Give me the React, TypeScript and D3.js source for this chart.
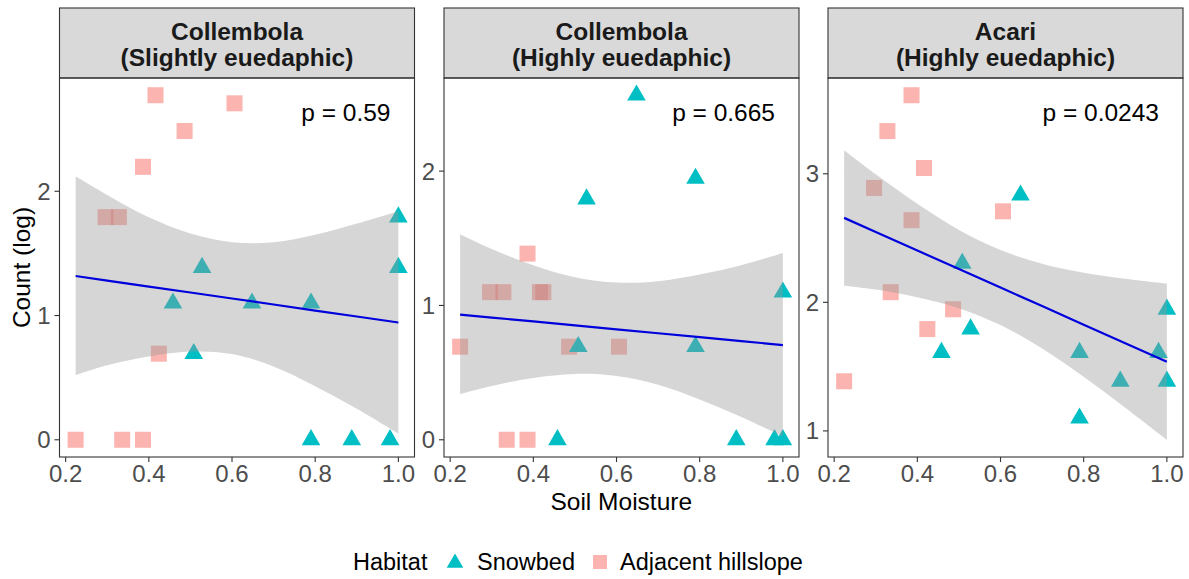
import { useRef, useEffect } from "react";
import * as d3 from "d3";

// facet strips and annotations
const facetTitles = [
  ["Collembola", "(Slightly euedaphic)"],
  ["Collembola", "(Highly euedaphic)"],
  ["Acari", "(Highly euedaphic)"],
];
const pLabels = ["p = 0.59", "p = 0.665", "p = 0.0243"];
const xTicks = [0.2, 0.4, 0.6, 0.8, 1.0];
const yTicks = [
  [0, 1, 2],
  [0, 1, 2],
  [1, 2, 3],
];
const habitats = ["Snowbed", "Adjacent hillslope"];

// soil moisture of the sites
const snowbedMoisture = [0.458, 0.508, 0.528, 0.648, 0.79, 0.79, 0.888, 0.98, 1.0, 1.0];
const hillslopeMoisture = [0.224, 0.296, 0.328, 0.336, 0.386, 0.386, 0.416, 0.424, 0.486, 0.606];

// log counts per facet
const slightSnowbed = [1.099, 0.693, 1.386, 1.099, 1.099, 0, 0, 0, 1.792, 1.386];
const slightHillslope = [0, 1.792, 1.792, 0, 2.197, 0, 2.773, 0.693, 2.485, 2.708];
const highSnowbed = [0, 0.693, 1.792, 2.565, 1.946, 0.693, 0, 0, 1.099, 0];
const highHillslope = [0.693, 1.099, 1.099, 0, 1.386, 0, 1.099, 1.099, 0.693, 0.693];
const acariSnowbed = [1.609, 2.303, 1.792, 2.833, 1.609, 1.099, 1.386, 1.609, 1.946, 1.386];
const acariHillslope = [1.386, 2.89, 3.332, 2.079, 3.611, 2.639, 3.045, 1.792, 1.946, 2.708];

// linear fit and confidence band
const fitX = [0.224, 0.3, 0.4, 0.5, 0.6, 0.7, 0.8, 0.9, 1.0];
const slightFit = [1.318, 1.281, 1.233, 1.185, 1.137, 1.089, 1.04, 0.992, 0.944];
const slightLower = [0.52, 0.6, 0.67, 0.71, 0.69, 0.59, 0.43, 0.25, 0.05];
const slightUpper = [2.12, 1.97, 1.79, 1.66, 1.59, 1.59, 1.65, 1.74, 1.84];
const highFit = [0.932, 0.91, 0.881, 0.851, 0.822, 0.793, 0.764, 0.735, 0.705];
const highLower = [0.34, 0.4, 0.46, 0.49, 0.475, 0.41, 0.3, 0.17, 0.025];
const highUpper = [1.53, 1.42, 1.3, 1.21, 1.17, 1.18, 1.23, 1.3, 1.39];
const acariFit = [2.657, 2.547, 2.403, 2.259, 2.115, 1.971, 1.826, 1.682, 1.538];
const acariLower = [2.13, 2.1, 2.04, 1.955, 1.823, 1.641, 1.421, 1.181, 0.931];
const acariUpper = [3.183, 2.996, 2.766, 2.563, 2.407, 2.301, 2.231, 2.183, 2.145];

const panels = [
  { snow: slightSnowbed, hill: slightHillslope, fit: slightFit, lower: slightLower, upper: slightUpper },
  { snow: highSnowbed, hill: highHillslope, fit: highFit, lower: highLower, upper: highUpper },
  { snow: acariSnowbed, hill: acariHillslope, fit: acariFit, lower: acariLower, upper: acariUpper },
];

const SNOW_COL = "#00BFC4";
const HILL_COL = "#F8766D";
const FONT = "'Liberation Sans', Arial, sans-serif";

export default function App() {
  const ref = useRef(null);

  useEffect(() => {
    const svg = d3.select(ref.current);
    svg.selectAll("*").remove();

    const width = 1189;
    const height = 579;
    const panelLeft = [59.5, 444, 828];
    const panelW = 355;
    const stripTop = 8;
    const plotTop = 78;
    const plotBottom = 457;

    svg.attr("width", width).attr("height", height);
    svg.append("rect").attr("width", width).attr("height", height).attr("fill", "white");

    const allX = [...snowbedMoisture, ...hillslopeMoisture];
    const xExt = d3.extent(allX);
    const xPad = (xExt[1] - xExt[0]) * 0.05;
    const xDomain = [xExt[0] - xPad, xExt[1] + xPad];

    const tri = d3.symbol().type(d3.symbolTriangle).size(150);

    panels.forEach((p, i) => {
      const left = panelLeft[i];
      const right = left + panelW;
      const x = d3.scaleLinear().domain(xDomain).range([left, right]);
      const yExt = d3.extent([...p.snow, ...p.hill, ...p.lower, ...p.upper]);
      const yPad = (yExt[1] - yExt[0]) * 0.05;
      const y = d3
        .scaleLinear()
        .domain([yExt[0] - yPad, yExt[1] + yPad])
        .range([plotBottom, plotTop]);

      const g = svg.append("g");

      // strip
      g.append("rect")
        .attr("x", left)
        .attr("y", stripTop)
        .attr("width", panelW)
        .attr("height", plotTop - stripTop)
        .attr("fill", "#D9D9D9")
        .attr("stroke", "#333333")
        .attr("stroke-width", 1.1);
      facetTitles[i].forEach((t, j) => {
        g.append("text")
          .attr("x", left + panelW / 2)
          .attr("y", 40 + j * 26)
          .attr("text-anchor", "middle")
          .attr("font-family", FONT)
          .attr("font-weight", "bold")
          .attr("font-size", 24.5)
          .attr("fill", "#1A1A1A")
          .text(t);
      });

      const clipId = `clip${i}`;
      svg.append("clipPath")
        .attr("id", clipId)
        .append("rect")
        .attr("x", left)
        .attr("y", plotTop)
        .attr("width", panelW)
        .attr("height", plotBottom - plotTop);

      const plot = g.append("g").attr("clip-path", `url(#${clipId})`);

      // points
      plot.selectAll(".hill")
        .data(p.hill)
        .join("rect")
        .attr("x", (d, k) => x(hillslopeMoisture[k]) - 8)
        .attr("y", (d) => y(d) - 8)
        .attr("width", 16)
        .attr("height", 16)
        .attr("fill", HILL_COL)
        .attr("fill-opacity", 0.55);

      plot.selectAll(".snow")
        .data(p.snow)
        .join("path")
        .attr("d", tri)
        .attr("transform", (d, k) => `translate(${x(snowbedMoisture[k])},${y(d)})`)
        .attr("fill", SNOW_COL);

      // confidence ribbon over points
      const area = d3
        .area()
        .x((d, k) => x(fitX[k]))
        .y0((d, k) => y(p.lower[k]))
        .y1((d, k) => y(p.upper[k]))
        .curve(d3.curveCatmullRom);
      plot.append("path")
        .datum(fitX)
        .attr("d", area)
        .attr("fill", "#999999")
        .attr("fill-opacity", 0.4);

      const line = d3
        .line()
        .x((d, k) => x(fitX[k]))
        .y((d) => y(d));
      plot.append("path")
        .datum(p.fit)
        .attr("d", line)
        .attr("fill", "none")
        .attr("stroke", "#0000DD")
        .attr("stroke-width", 2.2);

      // panel border
      g.append("rect")
        .attr("x", left)
        .attr("y", plotTop)
        .attr("width", panelW)
        .attr("height", plotBottom - plotTop)
        .attr("fill", "none")
        .attr("stroke", "#333333")
        .attr("stroke-width", 1.1);

      // x axis
      xTicks.forEach((t) => {
        g.append("line")
          .attr("x1", x(t))
          .attr("x2", x(t))
          .attr("y1", plotBottom)
          .attr("y2", plotBottom + 5)
          .attr("stroke", "#333333")
          .attr("stroke-width", 1.1);
        g.append("text")
          .attr("x", x(t))
          .attr("y", plotBottom + 25)
          .attr("text-anchor", "middle")
          .attr("font-family", FONT)
          .attr("font-size", 24)
          .attr("fill", "#4D4D4D")
          .text(d3.format(".1f")(t));
      });

      // y axis
      yTicks[i].forEach((t) => {
        g.append("line")
          .attr("x1", left - 5)
          .attr("x2", left)
          .attr("y1", y(t))
          .attr("y2", y(t))
          .attr("stroke", "#333333")
          .attr("stroke-width", 1.1);
        g.append("text")
          .attr("x", left - 9)
          .attr("y", y(t) + 8.5)
          .attr("text-anchor", "end")
          .attr("font-family", FONT)
          .attr("font-size", 24)
          .attr("fill", "#4D4D4D")
          .text(t);
      });

      // p value
      g.append("text")
        .attr("x", right - 24)
        .attr("y", 121)
        .attr("text-anchor", "end")
        .attr("font-family", FONT)
        .attr("font-size", 24.5)
        .attr("fill", "black")
        .text(pLabels[i]);
    });

    // axis titles
    svg.append("text")
      .attr("x", (panelLeft[0] + panelLeft[2] + panelW) / 2)
      .attr("y", 510)
      .attr("text-anchor", "middle")
      .attr("font-family", FONT)
      .attr("font-size", 24.5)
      .attr("fill", "black")
      .text("Soil Moisture");

    svg.append("text")
      .attr("transform", `translate(30,${(plotTop + plotBottom) / 2}) rotate(-90)`)
      .attr("text-anchor", "middle")
      .attr("font-family", FONT)
      .attr("font-size", 24.5)
      .attr("fill", "black")
      .text("Count (log)");

    // legend
    const leg = svg.append("g").attr("font-family", FONT).attr("font-size", 23.5).attr("fill", "black");
    leg.append("text").attr("x", 353).attr("y", 570).text("Habitat");
    leg.append("path")
      .attr("d", d3.symbol().type(d3.symbolTriangle).size(120)())
      .attr("transform", "translate(455,563)")
      .attr("fill", SNOW_COL);
    leg.append("text").attr("x", 477).attr("y", 570).text(habitats[0]);
    leg.append("rect")
      .attr("x", 593)
      .attr("y", 555)
      .attr("width", 14)
      .attr("height", 14)
      .attr("fill", HILL_COL)
      .attr("fill-opacity", 0.55);
    leg.append("text").attr("x", 620).attr("y", 570).text(habitats[1]);
  }, []);

  return (
    <svg
      ref={ref}
      style={{ position: "absolute", left: 0, top: 0, display: "block" }}
    />
  );
}
